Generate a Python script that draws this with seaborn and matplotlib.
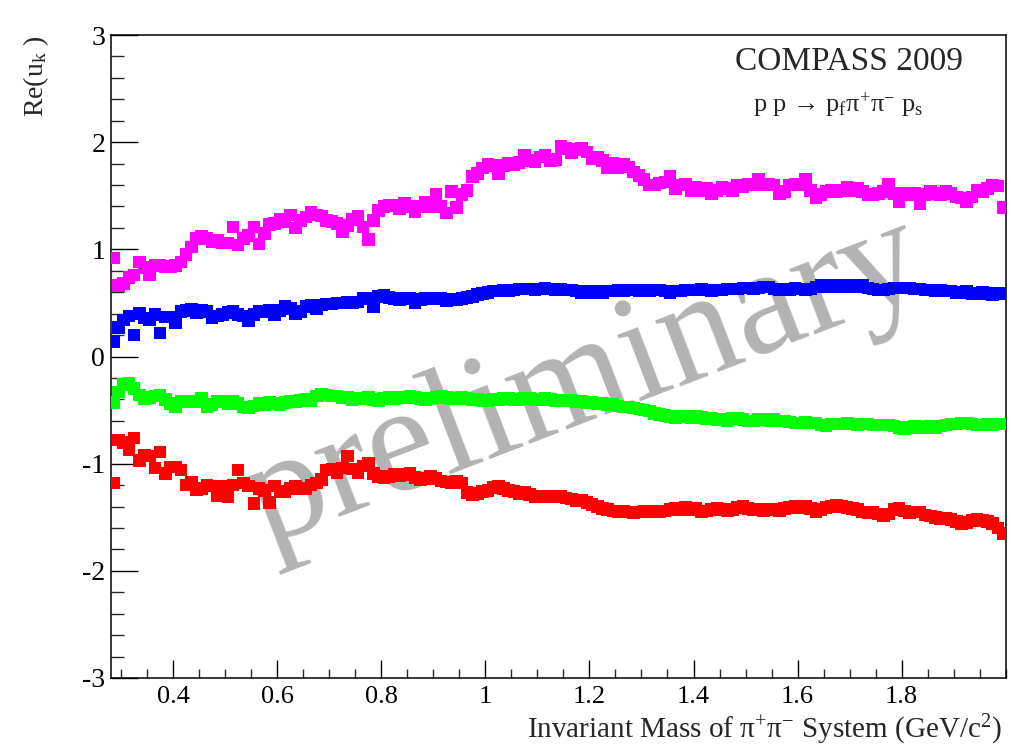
import numpy as np
import pandas as pd
import matplotlib
matplotlib.use("Agg")
import matplotlib.pyplot as plt
import seaborn as sns
from matplotlib.ticker import MultipleLocator, FuncFormatter

# ---- data: bin centres (GeV/c^2) and Re(u_k) for the four components ----
mass = np.round(np.arange(0.285, 2.0, 0.01), 3)

re_magenta = [
    0.92, 0.66, 0.68, 0.74, 0.76, 0.88, 0.83, 0.76, 0.85, 0.85,
    0.84, 0.84, 0.85, 0.88, 0.95, 1.02, 1.10, 1.12, 1.10, 1.07,
    1.08, 1.06, 1.06, 1.21, 1.04, 1.10, 1.13, 1.21, 1.05, 1.15,
    1.23, 1.24, 1.28, 1.26, 1.32, 1.20, 1.27, 1.30, 1.35, 1.32,
    1.31, 1.27, 1.26, 1.24, 1.16, 1.22, 1.28, 1.31, 1.21, 1.09,
    1.27, 1.36, 1.40, 1.41, 1.41, 1.38, 1.43, 1.40, 1.35, 1.40,
    1.44, 1.40, 1.51, 1.40, 1.34, 1.54, 1.39, 1.51, 1.55, 1.68,
    1.71, 1.76, 1.79, 1.78, 1.71, 1.78, 1.80, 1.79, 1.81, 1.88,
    1.83, 1.82, 1.86, 1.88, 1.83, 1.84, 1.96, 1.94, 1.90, 1.93,
    1.94, 1.91, 1.85, 1.86, 1.83, 1.76, 1.80, 1.76, 1.79, 1.77,
    1.72, 1.69, 1.65, 1.60, 1.60, 1.62, 1.63, 1.68, 1.57, 1.60,
    1.61, 1.55, 1.58, 1.55, 1.57, 1.52, 1.55, 1.58, 1.57, 1.55,
    1.60, 1.58, 1.61, 1.60, 1.65, 1.60, 1.61, 1.60, 1.52, 1.54,
    1.60, 1.61, 1.60, 1.65, 1.55, 1.48, 1.51, 1.54, 1.55, 1.54,
    1.55, 1.58, 1.55, 1.57, 1.54, 1.51, 1.51, 1.52, 1.54, 1.61,
    1.52, 1.44, 1.52, 1.51, 1.52, 1.43, 1.51, 1.54, 1.52, 1.51,
    1.54, 1.52, 1.49, 1.48, 1.44, 1.49, 1.55, 1.54, 1.57, 1.60,
    1.59, 1.39,
]

re_blue = [
    0.14, 0.27, 0.34, 0.38, 0.20, 0.40, 0.36, 0.34, 0.39, 0.22,
    0.37, 0.37, 0.32, 0.42, 0.43, 0.44, 0.41, 0.43, 0.42, 0.36,
    0.38, 0.39, 0.41, 0.42, 0.39, 0.38, 0.33, 0.39, 0.42, 0.42,
    0.43, 0.39, 0.43, 0.47, 0.45, 0.40, 0.42, 0.465, 0.48, 0.45,
    0.48, 0.49, 0.49, 0.50, 0.50, 0.51, 0.50, 0.51, 0.54, 0.54,
    0.465, 0.56, 0.57, 0.55, 0.54, 0.53, 0.54, 0.54, 0.50, 0.53,
    0.54, 0.54, 0.54, 0.54, 0.52, 0.53, 0.53, 0.54, 0.55, 0.56,
    0.58, 0.59, 0.60, 0.61, 0.61, 0.62, 0.61, 0.62, 0.63, 0.63,
    0.63, 0.62, 0.63, 0.64, 0.63, 0.62, 0.63, 0.62, 0.62, 0.61,
    0.60, 0.61, 0.60, 0.61, 0.60, 0.61, 0.61, 0.62, 0.61, 0.62,
    0.62, 0.61, 0.62, 0.61, 0.62, 0.62, 0.61, 0.60, 0.61, 0.61,
    0.62, 0.62, 0.62, 0.63, 0.62, 0.61, 0.62, 0.62, 0.63, 0.63,
    0.63, 0.64, 0.64, 0.63, 0.64, 0.65, 0.65, 0.63, 0.62, 0.63,
    0.62, 0.64, 0.63, 0.62, 0.63, 0.65, 0.66, 0.65, 0.66, 0.65,
    0.66, 0.65, 0.66, 0.65, 0.66, 0.64, 0.63, 0.62, 0.62, 0.63,
    0.64, 0.64, 0.64, 0.64, 0.63, 0.63, 0.62, 0.62, 0.61, 0.62,
    0.61, 0.61, 0.60, 0.60, 0.61, 0.59, 0.59, 0.60, 0.59, 0.58,
    0.59, 0.59,
]

re_green = [
    -0.43, -0.33, -0.26, -0.25, -0.30, -0.36, -0.39, -0.38, -0.37, -0.36,
    -0.40, -0.44, -0.47, -0.42, -0.42, -0.42, -0.42, -0.39, -0.47, -0.45,
    -0.42, -0.42, -0.44, -0.42, -0.44, -0.47, -0.48, -0.46, -0.44, -0.45,
    -0.43, -0.44, -0.45, -0.43, -0.42, -0.42, -0.41, -0.40, -0.41, -0.37,
    -0.35, -0.36, -0.37, -0.37, -0.38, -0.38, -0.40, -0.39, -0.39, -0.38,
    -0.40, -0.41, -0.39, -0.38, -0.39, -0.38, -0.38, -0.37, -0.38, -0.39,
    -0.40, -0.39, -0.38, -0.37, -0.38, -0.39, -0.39, -0.38, -0.39, -0.40,
    -0.40, -0.41, -0.41, -0.40, -0.40, -0.39, -0.39, -0.40, -0.40, -0.39,
    -0.39, -0.40, -0.40, -0.39, -0.40, -0.41, -0.41, -0.41, -0.41, -0.42,
    -0.42, -0.43, -0.43, -0.44, -0.44, -0.45, -0.45, -0.46, -0.47, -0.47,
    -0.48, -0.49, -0.50, -0.51, -0.53, -0.54, -0.55, -0.56, -0.57, -0.56,
    -0.56, -0.57, -0.56, -0.57, -0.58, -0.58, -0.59, -0.59, -0.60, -0.58,
    -0.58, -0.59, -0.60, -0.60, -0.59, -0.59, -0.60, -0.59, -0.60, -0.60,
    -0.61, -0.62, -0.62, -0.61, -0.62, -0.62, -0.64, -0.65, -0.63, -0.63,
    -0.63, -0.62, -0.63, -0.64, -0.63, -0.63, -0.64, -0.64, -0.64, -0.64,
    -0.65, -0.66, -0.67, -0.66, -0.65, -0.66, -0.66, -0.65, -0.66, -0.65,
    -0.64, -0.63, -0.63, -0.62, -0.62, -0.63, -0.64, -0.64, -0.63, -0.64,
    -0.63, -0.63,
]

re_red = [
    -1.18, -0.78, -0.80, -0.87, -0.76, -0.97, -0.92, -0.93, -1.04, -0.89,
    -1.09, -1.03, -1.03, -1.06, -1.20, -1.17, -1.24, -1.23, -1.20, -1.21,
    -1.30, -1.21, -1.31, -1.20, -1.06, -1.18, -1.21, -1.37, -1.23, -1.25,
    -1.36, -1.21, -1.26, -1.26, -1.23, -1.21, -1.23, -1.23, -1.20, -1.18,
    -1.15, -1.06, -1.05, -1.08, -1.04, -0.93, -1.05, -1.08, -1.02, -1.00,
    -1.09, -1.12, -1.13, -1.12, -1.10, -1.11, -1.10, -1.09, -1.13, -1.15,
    -1.14, -1.12, -1.14, -1.16, -1.17, -1.18, -1.16, -1.18, -1.27, -1.29,
    -1.28, -1.26, -1.25, -1.22, -1.21, -1.23, -1.25, -1.26, -1.28, -1.27,
    -1.29, -1.31, -1.30, -1.31, -1.30, -1.31, -1.30, -1.32, -1.33, -1.35,
    -1.34, -1.36, -1.38, -1.40, -1.42, -1.43, -1.44, -1.45, -1.44, -1.45,
    -1.46, -1.45, -1.44, -1.45, -1.44, -1.45, -1.44, -1.43, -1.42, -1.43,
    -1.41, -1.43, -1.42, -1.45, -1.44, -1.43, -1.42, -1.43, -1.44, -1.43,
    -1.41, -1.40, -1.42, -1.43, -1.43, -1.44, -1.43, -1.43, -1.44, -1.42,
    -1.41, -1.40, -1.41, -1.40, -1.42, -1.45, -1.43, -1.41, -1.40, -1.39,
    -1.40, -1.41, -1.42, -1.43, -1.45, -1.46, -1.45, -1.47, -1.49, -1.47,
    -1.43, -1.42, -1.44, -1.46, -1.45, -1.45, -1.48, -1.49, -1.50, -1.51,
    -1.51, -1.52, -1.54, -1.56, -1.55, -1.53, -1.52, -1.53, -1.54, -1.56,
    -1.60, -1.65,
]

series_names = ["u1", "u2", "u3", "u4"]
series_colors = ["#ff00ff", "#0000ff", "#00ff00", "#ff0000"]
x_ticks = [0.4, 0.6, 0.8, 1.0, 1.2, 1.4, 1.6, 1.8]
y_ticks = [-3, -2, -1, 0, 1, 2, 3]

# ---- build long table ----
frames = []
for name, vals in zip(series_names, [re_magenta, re_blue, re_green, re_red]):
    n = min(len(vals), len(mass))
    frames.append(pd.DataFrame({"mass": mass[:n], "re": vals[:n], "series": name}))
df = pd.concat(frames, ignore_index=True)

# ---- style ----
sns.set_theme(style="white")
plt.rcParams["font.family"] = ["Liberation Serif", "DejaVu Serif"]
plt.rcParams["mathtext.fontset"] = "custom"
plt.rcParams["mathtext.rm"] = "Liberation Serif"
plt.rcParams["mathtext.it"] = "Liberation Serif:italic"
plt.rcParams["axes.unicode_minus"] = False

fig = plt.figure(figsize=(10.12, 7.55), dpi=100)
ax = fig.add_axes([0.1094, 0.102, 0.8844, 0.8516])

# watermark (below markers)
fig.text(0.578, 0.494, "preliminary", fontsize=110, color="#b3b3b3",
         rotation=21, rotation_mode="anchor", ha="center", va="center",
         zorder=0.5)
ax.set_zorder(1)
ax.patch.set_alpha(0)
fig.patch.set_facecolor("white")

sns.scatterplot(data=df, x="mass", y="re", hue="series",
                palette=dict(zip(series_names, series_colors)),
                marker="s", s=82, linewidth=0, legend=False, ax=ax, zorder=3)

ax.set_xlim(0.28, 2.0)
ax.set_ylim(-3, 3)
ax.set_xticks(x_ticks)
ax.set_yticks(y_ticks)
ax.xaxis.set_minor_locator(MultipleLocator(0.05))
ax.yaxis.set_minor_locator(MultipleLocator(0.2))
ax.xaxis.set_major_formatter(FuncFormatter(lambda v, p: f"{v:g}"))
ax.yaxis.set_major_formatter(FuncFormatter(lambda v, p: f"{v:g}"))
ax.set_xlabel("")
ax.set_ylabel("")

ax.tick_params(axis="x", which="major", direction="in", length=13, width=1.0,
               labelsize=19, pad=5.5, colors="black", bottom=True, top=False)
ax.tick_params(axis="x", which="minor", direction="in", length=6.5, width=1.0,
               bottom=True, top=False)
ax.tick_params(axis="y", which="major", direction="in", length=19.5, width=1.0,
               labelsize=20, pad=4, colors="black", left=True, right=False)
ax.tick_params(axis="y", which="minor", direction="in", length=9.5, width=1.0,
               left=True, right=False)
for sp in ax.spines.values():
    sp.set_visible(True)
    sp.set_color("black")
    sp.set_linewidth(1.1)

# axis titles
fig.text(0.990, 0.0225, r"Invariant Mass of π$^{+}$π$^{-}$ System (GeV/c$^{2}$)",
         ha="right", va="baseline", fontsize=21)
fig.text(0.036, 0.953, r"Re(u$_{\mathrm{k}}$ )", rotation=90,
         ha="center", va="top", fontsize=20)

# labels in the corner
fig.text(0.8385, 0.9073, "COMPASS 2009", ha="center", va="baseline", fontsize=24)
fig.text(0.828, 0.851, r"p p → p$_{\mathrm{f}}$π$^{+}$π$^{-}$ p$_{\mathrm{s}}$",
         ha="center", va="baseline", fontsize=19)

fig.savefig("out.png", dpi=100, facecolor="white")
